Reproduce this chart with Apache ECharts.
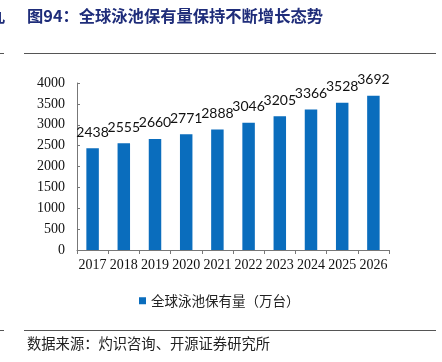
<!DOCTYPE html>
<html><head><meta charset="utf-8">
<script src="https://cdn.jsdelivr.net/npm/echarts@6/dist/echarts.min.js"></script>
<style>html,body{margin:0;padding:0;background:#fff}#c{width:442px;height:362px}</style>
</head><body><div id="c"></div>
<script>
const categories = ['2017','2018','2019','2020','2021','2022','2023','2024','2025','2026'];
const poolCounts = [2438,2555,2660,2771,2888,3046,3205,3366,3528,3692];
const seriesName = '全球泳池保有量（万台）';
const titleText = '图94：全球泳池保有量保持不断增长态势';
const sourceText = '数据来源：灼识咨询、开源证券研究所';

const chart = echarts.init(document.getElementById('c'), null, {renderer:'canvas'});
chart.setOption({
  animation:false,
  backgroundColor:'#fff',
  grid:{left:77,right:53,top:83,bottom:112},
  legend:{
    data:[seriesName], top:289, left:134, itemWidth:7, itemHeight:7, itemGap:4,
    icon:'rect',
    textStyle:{fontFamily:'Noto Sans CJK SC',fontSize:13.5,color:'#222'}
  },
  xAxis:{
    type:'category', data:categories,
    axisLine:{lineStyle:{color:'#777',width:1}},
    axisTick:{show:true,length:4,interval:0,lineStyle:{color:'#777'}},
    axisLabel:{fontFamily:'Liberation Serif',fontSize:14,color:'#111',margin:8,interval:0}
  },
  yAxis:{
    type:'value', min:0, max:4000, interval:500,
    axisLine:{show:true,lineStyle:{color:'#777'}},
    axisTick:{show:true,inside:true,length:3,lineStyle:{color:'#777'}},
    splitLine:{show:false},
    axisLabel:{fontFamily:'Liberation Serif',fontSize:14,color:'#111',margin:12,formatter:v=>String(v)}
  },
  series:[{
    name:seriesName, type:'bar', data:poolCounts, barWidth:'40%',
    itemStyle:{color:'#0a6dbd'},
    label:{show:true,position:'top',distance:9,fontFamily:'Lato',fontSize:14,color:'#111'}
  }],
  graphic:[
    {type:'text',left:27,top:8,style:{text:titleText,fontFamily:'Noto Sans CJK SC',fontWeight:'bold',fontSize:16.3,fill:'#1f2d7a'}},
    {type:'text',left:-11,top:8,style:{text:'九',fontFamily:'Noto Sans CJK SC',fontWeight:'bold',fontSize:16,fill:'#1f2d7a'}},
    {type:'line',shape:{x1:24,y1:53.5,x2:436,y2:53.5},style:{stroke:'#555',lineWidth:1}},
    {type:'line',shape:{x1:0,y1:53.5,x2:4,y2:53.5},style:{stroke:'#555',lineWidth:1}},
    {type:'line',shape:{x1:24,y1:330.5,x2:436,y2:330.5},style:{stroke:'#555',lineWidth:1}},
    {type:'line',shape:{x1:0,y1:330.5,x2:4,y2:330.5},style:{stroke:'#555',lineWidth:1}},
    {type:'text',left:27,top:336,style:{text:sourceText,fontFamily:'Noto Sans CJK SC',fontSize:14.3,fill:'#222'}}
  ]
});
</script></body></html>
